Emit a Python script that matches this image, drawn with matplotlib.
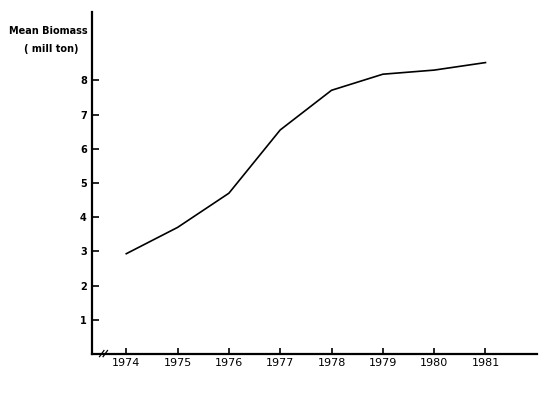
import matplotlib
matplotlib.use("Agg")
import matplotlib.pyplot as plt

years = [1974, 1975, 1976, 1977, 1978, 1979, 1980, 1981]
biomass = [2.93, 3.70, 4.70, 6.55, 7.71, 8.18, 8.30, 8.52]
y_ticks = [1, 2, 3, 4, 5, 6, 7, 8]
x_labels = ["1974", "1975", "1976", "1977", "1978", "1979", "1980", "1981"]

fig = plt.figure(figsize=(5.5, 3.99), dpi=100)
ax = fig.add_axes([0.168, 0.113, 0.808, 0.857])

ax.plot(years, biomass, color="black", linewidth=1.2)

ax.set_xlim(1973.34, 1982.0)
ax.set_ylim(0, 10)
ax.set_yticks(y_ticks)
ax.set_yticklabels([str(v) for v in y_ticks], fontsize=7, fontweight="bold")
ax.set_xticks(years)
ax.set_xticklabels(x_labels, fontsize=8)

for s in ["top", "right"]:
    ax.spines[s].set_visible(False)
for s in ["left", "bottom"]:
    ax.spines[s].set_linewidth(1.6)
    ax.spines[s].set_color("black")

ax.tick_params(axis="y", direction="in", length=5, width=1.2, pad=4)
ax.tick_params(axis="x", direction="in", length=4, width=1.2, pad=3)

# axis break marks
for dx in (0.0, 0.008):
    ax.plot([0.016 + dx, 0.026 + dx], [-0.008, 0.010], transform=ax.transAxes,
            color="black", linewidth=0.9, clip_on=False)

fig.text(0.087, 0.922, "Mean Biomass", fontsize=7, fontweight="bold", ha="center", va="center")
fig.text(0.094, 0.878, "( mill ton)", fontsize=7, fontweight="bold", ha="center", va="center")

fig.savefig("out.png", dpi=100, facecolor="white")
